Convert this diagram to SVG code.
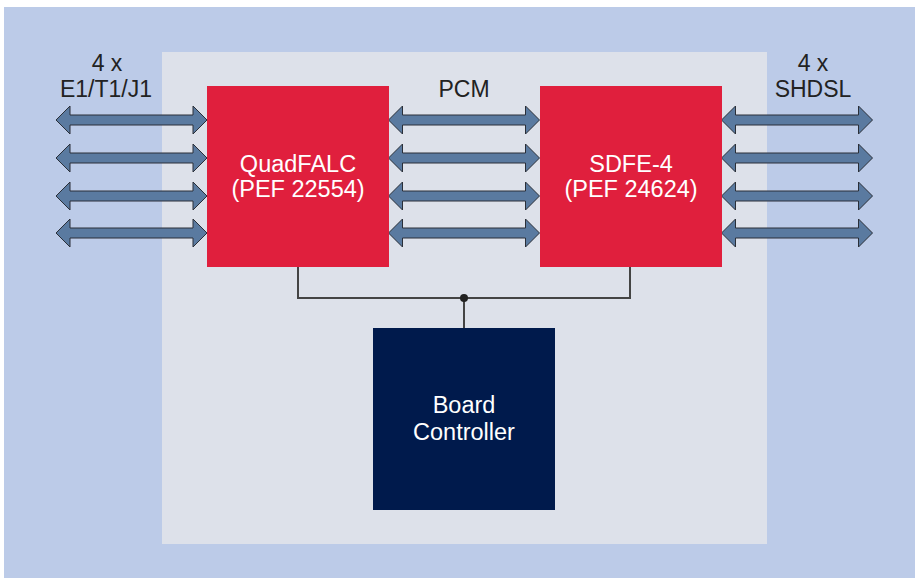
<svg xmlns="http://www.w3.org/2000/svg" xmlns:xlink="http://www.w3.org/1999/xlink" width="915" height="578" viewBox="0 0 915 578">
  <style>
    .lbl { font-family: "Liberation Sans", Arial, sans-serif; font-size: 23px; fill: #222222; text-anchor: middle; }
    .wt { font-family: "Liberation Sans", Arial, sans-serif; font-size: 23.5px; fill: #ffffff; text-anchor: middle; }
    .red { fill: #e01f3d; }
    .navy { fill: #001a4c; }
    .arr { fill: #5a7aa0; stroke: #2a2f38; stroke-width: 1; stroke-linejoin: miter; }
    .wire { fill: none; stroke: #444444; stroke-width: 2; }
  </style>
  <defs>
    <path id="dblarrow" class="arr" d="M0,0 L14,-14 L14,-5 L137,-5 L137,-14 L151,0 L137,14 L137,5 L14,5 L14,14 Z"/>
  </defs>
  <rect x="4" y="7" width="911" height="571" fill="#bccbe8"/>
  <rect x="162" y="52" width="605" height="492" fill="#dde1ea"/>

  <g id="connectors">
    <use xlink:href="#dblarrow" x="56" y="120"/>
    <use xlink:href="#dblarrow" x="56" y="158"/>
    <use xlink:href="#dblarrow" x="56" y="196"/>
    <use xlink:href="#dblarrow" x="56" y="233"/>
    <use xlink:href="#dblarrow" x="388.5" y="120"/>
    <use xlink:href="#dblarrow" x="388.5" y="158"/>
    <use xlink:href="#dblarrow" x="388.5" y="196"/>
    <use xlink:href="#dblarrow" x="388.5" y="233"/>
    <use xlink:href="#dblarrow" x="721.5" y="120"/>
    <use xlink:href="#dblarrow" x="721.5" y="158"/>
    <use xlink:href="#dblarrow" x="721.5" y="196"/>
    <use xlink:href="#dblarrow" x="721.5" y="233"/>
    <path class="wire" d="M298,267 V298 H630 V267 M464,298 V328"/>
    <circle cx="464" cy="298" r="4" fill="#222222"/>
  </g>

  <g id="labels">
    <text class="lbl" x="107" y="71">4 x</text>
    <text class="lbl" x="106" y="97">E1/T1/J1</text>
    <text class="lbl" x="464" y="97">PCM</text>
    <text class="lbl" x="813" y="71">4 x</text>
    <text class="lbl" x="813" y="97">SHDSL</text>
  </g>

  <g id="quadfalc">
    <rect class="red" x="207" y="86" width="182" height="181"/>
    <text class="wt" x="298" y="172">QuadFALC</text>
    <text class="wt" x="298" y="197">(PEF 22554)</text>
  </g>
  <g id="sdfe4">
    <rect class="red" x="540" y="86" width="182" height="181"/>
    <text class="wt" x="631" y="172">SDFE-4</text>
    <text class="wt" x="631" y="197">(PEF 24624)</text>
  </g>
  <g id="board-controller">
    <rect class="navy" x="373" y="328" width="182" height="182"/>
    <text class="wt" x="464" y="413">Board</text>
    <text class="wt" x="464" y="440">Controller</text>
  </g>
</svg>
